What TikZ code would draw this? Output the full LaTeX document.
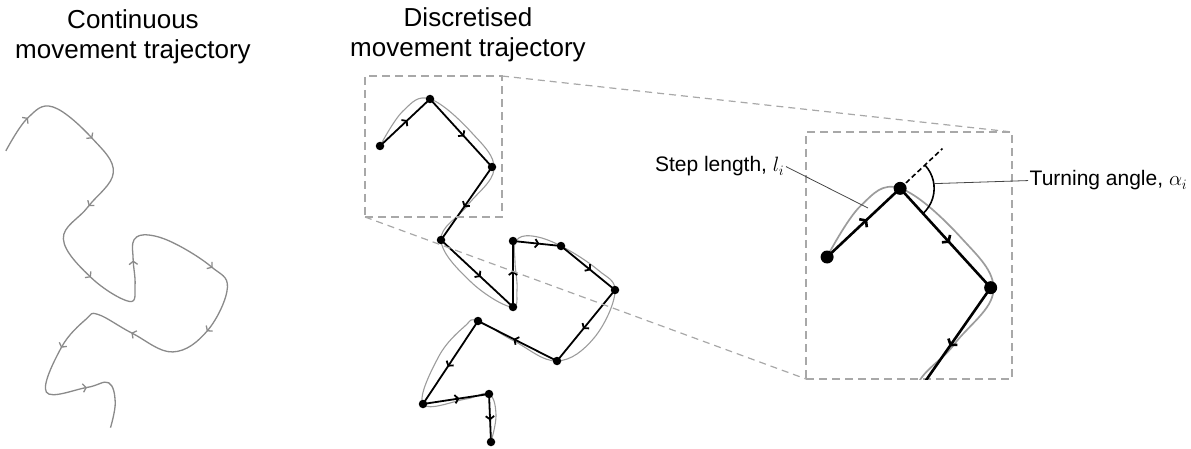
\documentclass[tikz,border=0pt]{standalone}
\usepackage{fontspec}
\setmainfont{Liberation Sans}
\usetikzlibrary{arrows.meta,decorations.markings,calc}

\definecolor{curvegrey}{HTML}{8A8A8A}
\definecolor{paledgrey}{HTML}{9C9C9C}
\definecolor{boxgrey}{HTML}{A8A8A8}
\definecolor{leadergrey}{HTML}{454545}

% fixes of the discretised track, in the frame of the middle drawing
\newcommand\trackpoints[1]{%
  \coordinate (#11) at (380,146);
  \coordinate (#12) at (430,99);
  \coordinate (#13) at (492,167);
  \coordinate (#14) at (441,240);
  \coordinate (#15) at (513,307);
  \coordinate (#16) at (513,241);
  \coordinate (#17) at (561,246);
  \coordinate (#18) at (615,290);
  \coordinate (#19) at (557,361);
  \coordinate (#110) at (478,321);
  \coordinate (#111) at (423,404);
  \coordinate (#112) at (489,394);
  \coordinate (#113) at (491,442);
}
% the continuous path the fixes were taken from
\newcommand\trackcurve[1]{%
  \draw[#1] plot[smooth, tension=0.65] coordinates {
    (380,146) (403,111) (430,99) (472,133) (494,169)
    (467,206) (441,240) (471,282) (511,307) (517,290) (515,262)
    (516,241) (532,236) (561,246) (598,270) (615,292) (594,338)
    (557,361) (514,341) (478,321) (465,326) (439,356) (423,404)
    (466,399) (489,394) (496,415) (491,442)};}
% straight steps between consecutive fixes, then the fixes
\newcommand\tracksteps[3]{%
  \foreach \a/\b in {1/2,2/3,3/4,4/5,5/6,6/7,7/8,8/9,9/10,10/11,11/12,12/13}
    \draw[#2] (#1\a) -- (#1\b);
  \foreach \i in {1,...,13}
    \node[#3] at (#1\i) {};
}

\tikzset{
  greytip/.tip={Straight Barb[length=3.2pt, width=8.5pt]},
  smalltip/.tip={Straight Barb[length=3.2pt, width=8.5pt]},
  largetip/.tip={Straight Barb[length=4pt, width=11pt]},
  freecurve/.style={draw=curvegrey, line width=1.3pt,
    postaction={decorate}, decoration={markings,
      mark=at position 0.044 with {\arrow{greytip}},
      mark=at position 0.132 with {\arrow{greytip}},
      mark=at position 0.224 with {\arrow{greytip}},
      mark=at position 0.324 with {\arrow{greytip}},
      mark=at position 0.424 with {\arrow{greytip}},
      mark=at position 0.545 with {\arrow{greytip}},
      mark=at position 0.628 with {\arrow{greytip}},
      mark=at position 0.724 with {\arrow{greytip}},
      mark=at position 0.824 with {\arrow{greytip}},
      mark=at position 0.923 with {\arrow{greytip}}}},
  midarrow/.style={postaction={decorate}, decoration={markings,
      mark=at position 0.55 with {\arrow{#1}}}},
  smallcurve/.style={draw=paledgrey, line width=1.1pt},
  smallstep/.style={draw=black, line width=1.8pt, midarrow=smalltip},
  smalldot/.style={circle, fill=black, inner sep=0pt, minimum size=8.5pt},
  largecurve/.style={draw=paledgrey, line width=1.7pt},
  largestep/.style={draw=black, line width=2.6pt, midarrow=largetip},
  largedot/.style={circle, fill=black, inner sep=0pt, minimum size=13pt},
  zoombox/.style={draw=boxgrey, line width=1.8pt, dash pattern=on 8pt off 5pt,
    inner sep=0pt, outer sep=0pt},
  zoomlink/.style={draw=boxgrey, line width=1.2pt, dash pattern=on 7pt off 5pt},
  heading/.style={align=center, inner sep=0pt, font=\fontsize{26}{30}\selectfont},
  labeltext/.style={inner sep=1.5pt, font=\fontsize{21}{25}\selectfont},
  leader/.style={draw=leadergrey, line width=0.8pt},
  extension/.style={draw=black, line width=1.6pt, dash pattern=on 5pt off 3pt},
  anglemark/.style={draw=black, line width=1.6pt},
}

\begin{document}
\begin{tikzpicture}[x=1pt, y=-1pt]
\useasboundingbox (0,0) rectangle (1191,449);

% headings
\node[heading, anchor=north] (conttitle) at (133,9) {Continuous\\movement trajectory};
\node[heading, anchor=north] (disctitle) at (468,7) {Discretised\\movement trajectory};

% continuous trajectory
\begin{scope}[shift={(-352.5,14.4)}, xscale=0.943, yscale=0.935]
  \trackcurve{freecurve}
\end{scope}

% discretised trajectory
\trackcurve{smallcurve}
\trackpoints{m}
\tracksteps{m}{smallstep}{smalldot}

% zoom frames and their links
\node[zoombox, minimum width=137pt, minimum height=141pt] (smallbox) at (433.5,146.5) {};
\node[zoombox, minimum width=206pt, minimum height=247pt] (bigbox) at (909,255.5) {};
\draw[zoomlink] (smallbox.north east) -- (bigbox.north east);
\draw[zoomlink] (smallbox.south west) -- (bigbox.south west);

% enlarged view of the first steps
\begin{scope}
  \clip (bigbox.south west) rectangle (bigbox.north east);
  \begin{scope}[shift={(272.2,43.8)}, scale=1.46]
    \trackcurve{largecurve}
    \trackpoints{z}
    \draw[extension] (z2) -- ($(z2)!-0.58!(z1)$);
    \draw[anglemark] ([shift={(-43.2:23.3)}]z2) arc[start angle=-43.2, end angle=47.6, radius=23.3];
    \tracksteps{z}{largestep}{largedot}
    \coordinate (turntip) at ([shift={(-8:23.3)}]z2);
    \coordinate (steptip) at (408.1,112.5);
  \end{scope}
\end{scope}

% annotations
\node[labeltext, anchor=base east] (steplbl) at (786,172) {Step length, $l_i$};
\node[labeltext, anchor=base west] (turnlbl) at (1028,186) {Turning angle, $\alpha_i$};
\draw[leader] (steplbl.east) -- (steptip);
\draw[leader] (turntip) -- (turnlbl.west);
\end{tikzpicture}
\end{document}
